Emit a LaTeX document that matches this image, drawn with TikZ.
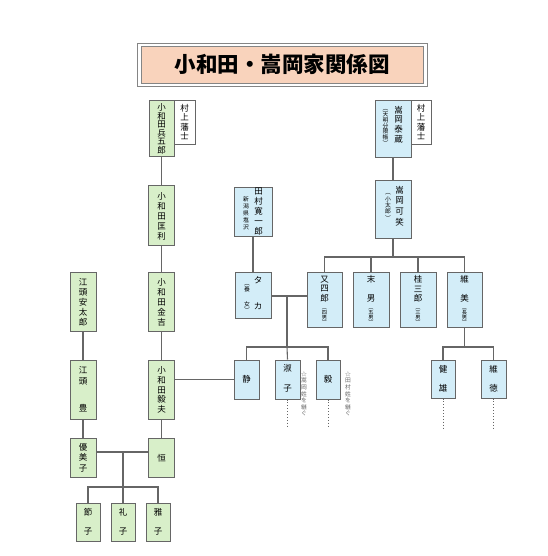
\documentclass[tikz,border=0pt]{standalone}
\usepackage{fontspec}
\newfontfamily\cjk{Noto Sans CJK JP}
\definecolor{gfill}{HTML}{D8EFC9}
\definecolor{bfill}{HTML}{D3EDF8}
\definecolor{pfill}{HTML}{F9D3BC}
\definecolor{edge}{HTML}{666666}
\definecolor{note}{HTML}{666666}
\tikzset{
  box/.style={draw=edge, line width=1pt, inner sep=0pt},
  gbox/.style={box, fill=gfill},
  bbox/.style={box, fill=bfill},
  wbox/.style={box, fill=white},
  link/.style={draw=edge, line width=1.1pt},
  dotline/.style={draw=edge, line width=0.9pt, dotted},
  vt/.style={align=center, inner sep=0pt, font=\cjk\fontsize{8.5}{#1}\selectfont},
  vs/.style={align=center, inner sep=0pt, font=\cjk\fontsize{5.8}{#1}\selectfont},
  vss/.style={align=center, inner sep=0pt, font=\cjk\fontsize{5.2}{#1}\selectfont},
}
\begin{document}
\begin{tikzpicture}[x=1pt,y=-1pt]
\useasboundingbox (0,0) rectangle (547,556);
% title
\node[draw=edge!80, line width=0.8pt, minimum width=290pt, minimum height=43pt, inner sep=0pt] (titleframe) at (282,64.5) {};
\node[draw=edge!80, line width=0.6pt, fill=pfill, minimum width=282pt, minimum height=37pt, inner sep=0pt] (titlebox) at (282,64.5) {};
\node[font=\cjk\bfseries\fontsize{21.5}{22}\selectfont, inner sep=0pt] (title) at (titlebox) {小和田・嵩岡家関係図};

% ---------- Owada line (green) ----------
\node[gbox, minimum width=25pt, minimum height=56pt] (hyo) at (161.5,129) {};
\node[vt=8.5] (hyot) at (161.5,129) {小\\和\\田\\兵\\五\\郎};
\node[wbox, minimum width=21pt, minimum height=44pt] (mura1) at (184.5,123) {};
\node[vt=9.5] (mura1t) at (184.5,122) {村\\上\\藩\\士};

\node[gbox, minimum width=26pt, minimum height=60pt] (masa) at (161.5,215) {};
\node[vt=10] (masat) at (161.5,216) {小\\和\\田\\匡\\利};

\node[gbox, minimum width=26pt, minimum height=59pt] (kin) at (161.5,301.5) {};
\node[vt=10] (kint) at (161.5,302) {小\\和\\田\\金\\吉};

\node[gbox, minimum width=26pt, minimum height=59pt] (take) at (161.5,389.5) {};
\node[vt=9.6] (taket) at (161.5,390) {小\\和\\田\\毅\\夫};

\node[gbox, minimum width=26pt, minimum height=39pt] (hisashi) at (161.5,457.5) {};
\node[vt=10] (hisashit) at (161.5,458) {恒};

\node[gbox, minimum width=26pt, minimum height=59pt] (yasu) at (83,301.5) {};
\node[vt=10] (yasut) at (83,302) {江\\頭\\安\\太\\郎};

\node[gbox, minimum width=26pt, minimum height=59pt] (yutaka) at (83,389.5) {};
\node[vt=11.5] (yutakat1) at (83,376) {江\\頭};
\node[vt=10] (yutakat2) at (83,408) {豊};

\node[gbox, minimum width=26pt, minimum height=39pt] (yumiko) at (83,457.5) {};
\node[vt=10.5] (yumikot) at (83,457.5) {優\\美\\子};

\node[gbox, minimum width=24pt, minimum height=38pt] (setsu) at (88,522) {};
\node[vt=19] (setsut) at (88,522) {節\\子};
\node[gbox, minimum width=24pt, minimum height=38pt] (rei) at (123,522) {};
\node[vt=19] (reit) at (123,522) {礼\\子};
\node[gbox, minimum width=24pt, minimum height=38pt] (masako) at (158,522) {};
\node[vt=19] (masakot) at (158,522) {雅\\子};

% ---------- Takaoka line (blue) ----------
\node[bbox, minimum width=36pt, minimum height=57pt] (taizo) at (393,129.5) {};
\node[vt=9.8] (taizot) at (398.5,124.5) {嵩\\岡\\泰\\蔵};
\node[vs=5.7] (taizos) at (385.5,127.5) {︵\\天\\明\\分\\限\\帳\\︶};
\node[wbox, minimum width=20pt, minimum height=44pt] (mura2) at (421,123) {};
\node[vt=9.5] (mura2t) at (421,122) {村\\上\\藩\\士};

\node[bbox, minimum width=36pt, minimum height=58pt] (kasho) at (393,209) {};
\node[vt=10.6] (kashot) at (399.5,206) {嵩\\岡\\可\\笑};
\node[vs=6.4] (kashos) at (388,207) {︵\\小\\太\\郎\\︶};

\node[bbox, minimum width=38pt, minimum height=49pt] (tamura) at (253,211.5) {};
\node[vt=10] (tamurat) at (258.5,212) {田\\村\\寛\\一\\郎};
\node[vs=7] (tamuras) at (246,213) {新\\潟\\県\\塩\\沢};

\node[bbox, minimum width=36pt, minimum height=46pt] (taka) at (253,295) {};
\node[vt=26] (takat) at (258,293) {タ\\カ};
\node[vs=6] (takas1) at (247,288) {︵\\養};
\node[vs=6] (takas2) at (247,307) {女\\︶};

\node[bbox, minimum width=35pt, minimum height=55pt] (mata) at (324.5,299.5) {};
\node[vt=9.5] (matat) at (324.5,289) {又\\四\\郎};
\node[vss=5.2] (matas) at (324.5,316.5) {︵\\四\\男\\︶};

\node[bbox, minimum width=36pt, minimum height=55pt] (sue) at (371,299.5) {};
\node[vt=18.5] (suet) at (371,289) {末\\男};
\node[vss=5.2] (sues) at (371,316.5) {︵\\五\\男\\︶};

\node[bbox, minimum width=36pt, minimum height=55pt] (kei) at (418,299.5) {};
\node[vt=9.5] (keit) at (418,289) {桂\\三\\郎};
\node[vss=5.2] (keis) at (418,316.5) {︵\\三\\男\\︶};

\node[bbox, minimum width=35pt, minimum height=55pt] (ikumi) at (464.5,299.5) {};
\node[vt=18.5] (ikumit) at (464.5,289) {維\\美};
\node[vss=5.2] (ikumis) at (464.5,316.5) {︵\\長\\男\\︶};

\node[bbox, minimum width=25pt, minimum height=39pt] (shizu) at (246.5,379.5) {};
\node[vt=10] (shizut) at (246.5,379.5) {静};
\node[bbox, minimum width=25pt, minimum height=39pt] (yoshi) at (287.5,379.5) {};
\node[vt=20] (yoshit) at (287.5,378.5) {淑\\子};
\node[bbox, minimum width=24pt, minimum height=39pt] (tsuyo) at (328,379.5) {};
\node[vt=10] (tsuyot) at (328,379.5) {毅};

\node[bbox, minimum width=24pt, minimum height=38pt] (takeo) at (443,379) {};
\node[vt=18.5] (takeot) at (443,379) {健\\雄};
\node[bbox, minimum width=25pt, minimum height=38pt] (inori) at (493.5,379) {};
\node[vt=18.5] (inorit) at (493.5,379) {維\\徳};

% notes
\node[vs=6.6, text=note] (note1) at (304,394) {☆\\嵩\\岡\\姓\\を\\継\\ぐ};
\node[vs=6.6, text=note] (note2) at (348,394) {☆\\田\\村\\姓\\を\\継\\ぐ};

% coordinates for branch points
\coordinate (j1) at (123,452);
\coordinate (j1b) at (123,487);
\coordinate (c1) at (88,487);
\coordinate (c3) at (158,487);
\coordinate (j2) at (393,257);
\coordinate (s1) at (324.5,257);
\coordinate (s4) at (464.5,257);
\coordinate (j3) at (287,296);
\coordinate (j3b) at (287,347);
\coordinate (d1) at (246.5,347);
\coordinate (d3) at (328,347);
\coordinate (j4) at (464.5,347);
\coordinate (e1) at (443,347);
\coordinate (e2) at (493.5,347);
\coordinate (q1) at (287.5,428);
\coordinate (q2) at (328,428);
\coordinate (q3) at (443,428);
\coordinate (q4) at (493.5,428);

% ---------- connectors ----------
\draw[link] (hyo.south) -- (masa.north);
\draw[link] (masa.south) -- (kin.north);
\draw[link] (kin.south) -- (take.north);
\draw[link] (take.south) -- (hisashi.north);
\draw[link] (yasu.south) -- (yutaka.north);
\draw[link] (yutaka.south) -- (yumiko.north);
\draw[link] (yumiko.east |- j1) -- (hisashi.west |- j1);
\draw[link] (j1) -- (j1b);
\draw[link] (setsu.north) -- (c1) -- (c3) -- (masako.north);
\draw[link] (j1b) -- (rei.north);
\draw[link] (take.east |- shizu.west) -- (shizu.west);

\draw[link] (taizo.south) -- (kasho.north);
\draw[link] (kasho.south) -- (j2);
\draw[link] (mata.north) -- (s1) -- (s4) -- (ikumi.north);
\draw[link] (sue.north) -- (sue.north |- s1);
\draw[link] (kei.north) -- (kei.north |- s1);
\draw[link] (tamura.south) -- (taka.north);
\draw[link] (taka.east |- j3) -- (mata.west |- j3);
\draw[link] (j3) -- (j3b);
\draw[link] (shizu.north) -- (d1) -- (d3) -- (tsuyo.north);
\draw[link] (j3b) -- (yoshi.north);
\draw[link] (ikumi.south) -- (j4);
\draw[link] (takeo.north) -- (e1) -- (e2) -- (inori.north);

\draw[dotline] (yoshi.south) -- (q1);
\draw[dotline] (tsuyo.south) -- (q2);
\draw[dotline] (takeo.south) -- (q3);
\draw[dotline] (inori.south) -- (q4);
\end{tikzpicture}
\end{document}
